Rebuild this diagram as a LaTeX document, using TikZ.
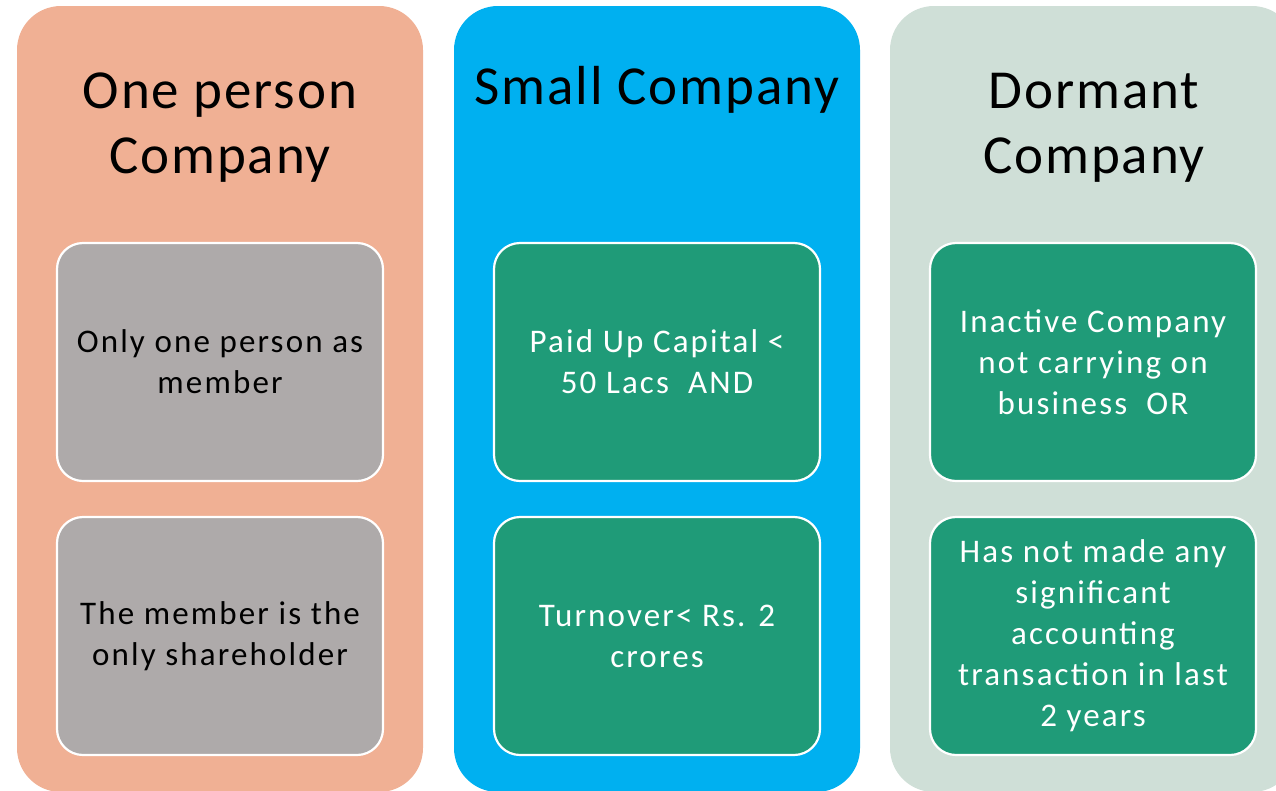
\documentclass[tikz,border=0pt]{standalone}
\usepackage{fontspec}
\setmainfont{Carlito}
\newfontfamily\titlefont[LetterSpace=3.5]{Carlito}
\newfontfamily\itemfont[LetterSpace=6.5]{Carlito}
\definecolor{colorange}{HTML}{F0B094}
\definecolor{colblue}{HTML}{00B0F0}
\definecolor{colsage}{HTML}{CFDFD7}
\definecolor{boxgray}{HTML}{AEAAAA}
\definecolor{boxgreen}{HTML}{1F9B78}
\begin{document}
\begin{tikzpicture}[x=1pt,y=-1pt,
  colbox/.style={rounded corners=44pt},
  innerbox/.style={draw=white,line width=2.2pt,rounded corners=26pt},
  titletext/.style={font=\titlefont\fontsize{55}{65}\selectfont,align=center,text=black,inner sep=0pt},
  itemtext/.style={font=\itemfont\fontsize{33}{41}\selectfont,align=center,inner sep=0pt},
]
\useasboundingbox (0,0) rectangle (1276,790);
\begin{scope}
\clip (0,0) rectangle (1276,790);
% columns
\fill[colorange,colbox] (17,6) rectangle (423,792);
\fill[colblue,colbox] (454,6) rectangle (860,792);
\fill[colsage,colbox] (890,6) rectangle (1296,792);
\end{scope}
% titles
\node[titletext] (t1) at (220,128) {One person\\Company};
\node[titletext] (t2) at (657,90) {Small Company};
\node[titletext] (t3) at (1094,128) {Dormant\\Company};
% inner boxes
\filldraw[boxgray,innerbox,draw=white] (57,243) rectangle (383,481);
\filldraw[boxgray,innerbox,draw=white] (57,517) rectangle (383,755);
\filldraw[boxgreen,innerbox,draw=white] (494,243) rectangle (820,481);
\filldraw[boxgreen,innerbox,draw=white] (494,517) rectangle (820,755);
\filldraw[boxgreen,innerbox,draw=white] (930,243) rectangle (1256,481);
\filldraw[boxgreen,innerbox,draw=white] (930,517) rectangle (1256,755);
% texts
\node[itemtext,text=black] (a1) at (220,362) {Only one person as\\member};
\node[itemtext,text=black] (a2) at (220,636) {The member is the\\only shareholder};
\node[itemtext,text=white] (b1) at (657,362) {Paid Up Capital <\\50 Lacs~~AND};
\node[itemtext,text=white] (b2) at (657,636) {Turnover< Rs. 2\\crores};
\node[itemtext,text=white] (c1) at (1093,362) {Inactive Company\\not carrying on\\business~~OR};
\node[itemtext,text=white] (c2) at (1093,636) {Has not made any\\significant\\accounting\\transaction in last\\2 years};
\end{tikzpicture}
\end{document}
